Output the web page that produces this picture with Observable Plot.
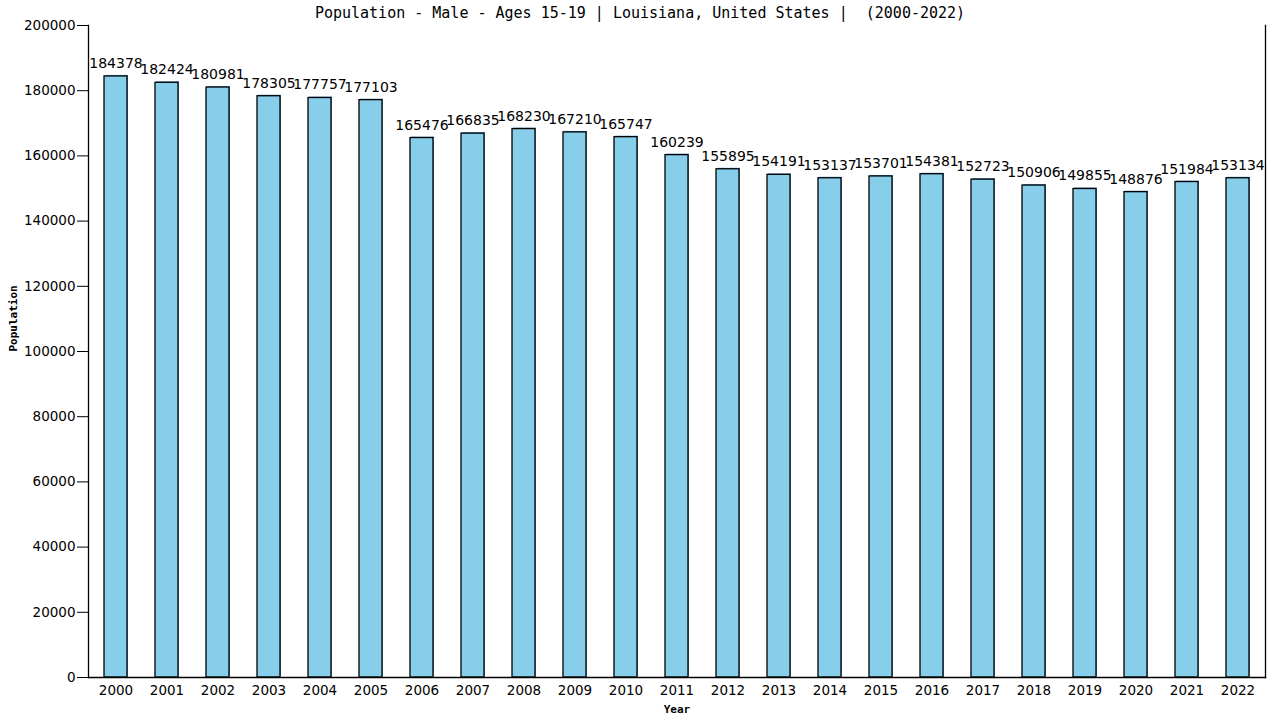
<!DOCTYPE html>
<html>
<head>
<meta charset="utf-8">
<script src="https://cdn.jsdelivr.net/npm/d3@7"></script>
<script src="https://cdn.jsdelivr.net/npm/@observablehq/plot@0.6"></script>
<style>
  html, body { margin: 0; padding: 0; background: #fff; }
  svg { display: block; }
</style>
</head>
<body>
<div id="chart"></div>
<script>
const years = ["2000","2001","2002","2003","2004","2005","2006","2007","2008","2009","2010","2011","2012","2013","2014","2015","2016","2017","2018","2019","2020","2021","2022"];
const population = [184378,182424,180981,178305,177757,177103,165476,166835,168230,167210,165747,160239,155895,154191,153137,153701,154381,152723,150906,149855,148876,151984,153134];
const yTicks = [0,20000,40000,60000,80000,100000,120000,140000,160000,180000,200000];
const titleText = "Population - Male - Ages 15-19 | Louisiana, United States |  (2000-2022)";

const data = years.map((y, i) => ({year: y, value: population[i]}));

const chart = Plot.plot({
  width: 1280,
  height: 720,
  marginLeft: 88,
  marginRight: 15,
  marginTop: 25,
  marginBottom: 43,
  style: {fontFamily: "DejaVu Sans", fontSize: "13.5px", color: "#000", background: "#fff"},
  x: {domain: years, paddingInner: 0.54, paddingOuter: 0.24, label: null},
  y: {domain: [0, 200000], label: null},
  marks: [
    Plot.barY(data, {x: "year", y: "value", fill: "#5f9ec6", dx: 1, dy: -1}),
    Plot.barY(data, {x: "year", y: "value", fill: "#87CEEB", stroke: "#000", strokeWidth: 1.3}),
    Plot.text(data, {x: "year", y: "value", text: d => String(d.value), dy: -13, fontSize: 14, fill: "#000"}),
    Plot.frame({anchor: "left", stroke: "#000", strokeWidth: 1.3}),
    Plot.frame({anchor: "right", stroke: "#000", strokeWidth: 1.3}),
    Plot.frame({anchor: "bottom", stroke: "#000", strokeWidth: 1.3}),
    Plot.axisY({ticks: yTicks, tickFormat: d => String(d), tickSize: 11, tickPadding: 2, label: null, fontSize: 13.5}),
    Plot.axisX({tickSize: 0, tickPadding: 8, label: null, fontSize: 13.5}),
    Plot.text([titleText], {frameAnchor: "top", dy: -12, dx: -37, text: d => d, fontFamily: "DejaVu Sans Mono", fontSize: 15, lineAnchor: "middle"}),
    Plot.text(["Year"], {frameAnchor: "bottom", dy: 32, text: d => d, fontFamily: "DejaVu Sans Mono", fontWeight: "bold", fontSize: 11, lineAnchor: "middle"}),
    Plot.text(["Population"], {frameAnchor: "left", dx: -75, rotate: -90, text: d => d, fontFamily: "DejaVu Sans Mono", fontWeight: "bold", fontSize: 11})
  ]
});
document.getElementById("chart").appendChild(chart);
</script>
</body>
</html>
